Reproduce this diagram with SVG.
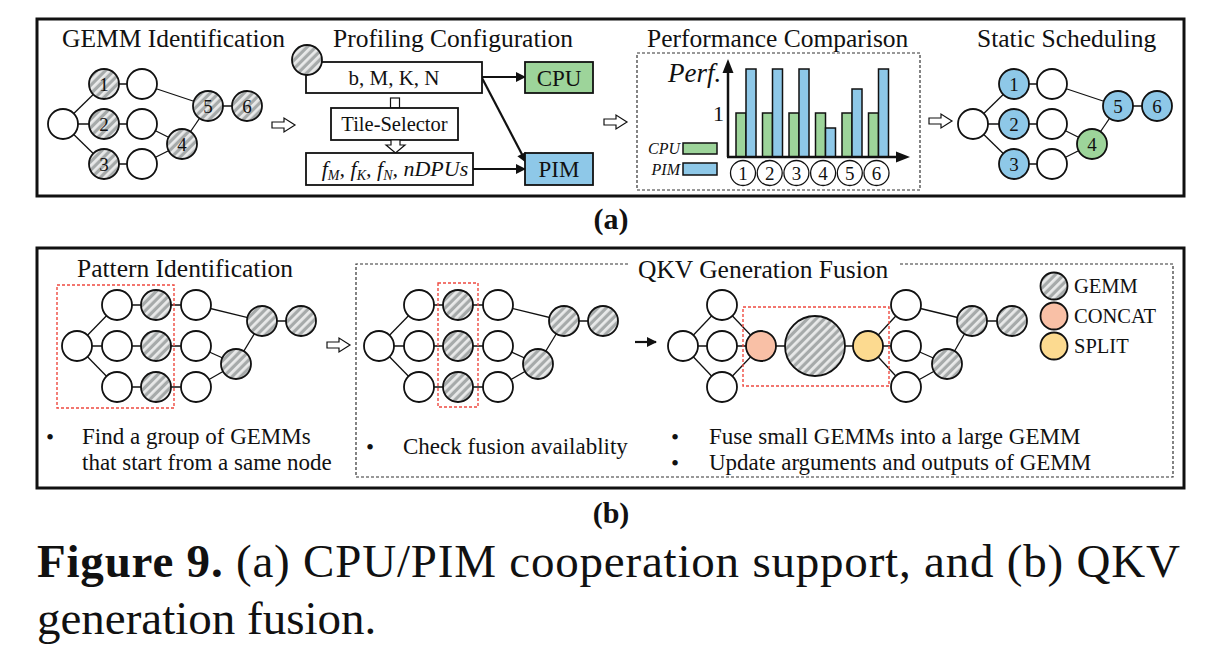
<svg xmlns="http://www.w3.org/2000/svg" width="1214" height="648" viewBox="0 0 1214 648">
<defs>
<pattern id="hatch" patternUnits="userSpaceOnUse" width="6" height="6" patternTransform="rotate(45)">
<rect width="6" height="6" fill="#a6aaaa"/>
<rect width="2.8" height="6" fill="#e9eaea"/>
</pattern>
<marker id="ah" viewBox="0 0 10 10" refX="9" refY="5" markerUnits="userSpaceOnUse" markerWidth="12" markerHeight="10" orient="auto">
<path d="M0,0 L10,5 L0,10 z" fill="#111"/>
</marker>
<path id="harrow" d="M0,-3 H12 V-7 L23,0 L12,7 V3 H0 Z" fill="#fff" stroke="#111" stroke-width="1.2"/>
</defs>
<style>
.t{font-family:"Liberation Serif","Times New Roman",serif;fill:#111}
.ti{font-size:25.5px}
.bd{font-size:23px}
.nl{font-size:19px;text-anchor:middle}
.e{stroke:#111;stroke-width:1.3;fill:none}
.n{stroke:#111;stroke-width:1.8}
.w{fill:#fff}
.h{fill:url(#hatch)}
.bl{fill:#8ec8e8}
.gr{fill:#9dd49a}
.cc{fill:#f9c0a6}
.sp{fill:#fcda90}
.box{fill:#fff;stroke:#111;stroke-width:1.8}
.dash{fill:none;stroke:#333;stroke-width:1.2;stroke-dasharray:3 2}
.red{fill:none;stroke:#ee4a40;stroke-width:1.4;stroke-dasharray:3 2}
.panel{fill:none;stroke:#111;stroke-width:3}
.ar{stroke:#111;stroke-width:2.2;fill:none;marker-end:url(#ah)}
.bar{stroke:#111;stroke-width:1.5}
</style>
<rect width="1214" height="648" fill="#fff"/>

<!-- Panel (a) -->
<rect class="panel" x="37" y="19" width="1147" height="177"/>
<text class="t ti" x="62" y="47">GEMM Identification</text>
<text class="t ti" x="333" y="47">Profiling Configuration</text>
<text class="t ti" x="647" y="47">Performance Comparison</text>
<text class="t ti" x="977" y="47">Static Scheduling</text>

<!-- hollow arrows -->
<use href="#harrow" x="272" y="125"/>
<use href="#harrow" x="604" y="122"/>
<use href="#harrow" x="929" y="121"/>
<use href="#harrow" x="327" y="345"/>

<!-- connectors -->
<g id="connectors">
<g class="e">
<line x1="63" y1="124" x2="104" y2="84"/><line x1="63" y1="124" x2="104" y2="124"/><line x1="63" y1="124" x2="104" y2="164"/>
<line x1="104" y1="84" x2="142" y2="84"/><line x1="104" y1="124" x2="142" y2="124"/><line x1="104" y1="164" x2="142" y2="164"/>
<line x1="142" y1="84" x2="208" y2="106"/><line x1="142" y1="124" x2="182" y2="144"/><line x1="142" y1="164" x2="182" y2="144"/>
<line x1="182" y1="144" x2="208" y2="106"/><line x1="208" y1="106" x2="247" y2="106"/>
</g>
<g class="e">
<line x1="973" y1="124" x2="1014" y2="84"/><line x1="973" y1="124" x2="1014" y2="124"/><line x1="973" y1="124" x2="1014" y2="164"/>
<line x1="1014" y1="84" x2="1052" y2="84"/><line x1="1014" y1="124" x2="1052" y2="124"/><line x1="1014" y1="164" x2="1052" y2="164"/>
<line x1="1052" y1="84" x2="1118" y2="106"/><line x1="1052" y1="124" x2="1092" y2="144"/><line x1="1052" y1="164" x2="1092" y2="144"/>
<line x1="1092" y1="144" x2="1118" y2="106"/><line x1="1118" y1="106" x2="1157" y2="106"/>
</g>
<line class="ar" x1="482" y1="77" x2="525" y2="77"/>
<line class="ar" x1="482" y1="78" x2="526" y2="162"/>
<line class="ar" x1="473" y1="169" x2="525" y2="169"/>
<g class="e">
<line x1="77" y1="346" x2="117" y2="305"/><line x1="77" y1="346" x2="117" y2="346"/><line x1="77" y1="346" x2="117" y2="387"/>
<line x1="117" y1="305" x2="196" y2="305"/><line x1="117" y1="346" x2="196" y2="346"/><line x1="117" y1="387" x2="196" y2="387"/>
<line x1="196" y1="305" x2="262" y2="321"/><line x1="196" y1="346" x2="236" y2="364"/><line x1="196" y1="387" x2="236" y2="364"/>
<line x1="236" y1="364" x2="262" y2="321"/><line x1="262" y1="321" x2="301" y2="321"/>
</g>
<g class="e">
<line x1="379" y1="346" x2="419" y2="305"/><line x1="379" y1="346" x2="419" y2="346"/><line x1="379" y1="346" x2="419" y2="387"/>
<line x1="419" y1="305" x2="498" y2="305"/><line x1="419" y1="346" x2="498" y2="346"/><line x1="419" y1="387" x2="498" y2="387"/>
<line x1="498" y1="305" x2="564" y2="321"/><line x1="498" y1="346" x2="538" y2="364"/><line x1="498" y1="387" x2="538" y2="364"/>
<line x1="538" y1="364" x2="564" y2="321"/><line x1="564" y1="321" x2="603" y2="321"/>
</g>
<line class="ar" x1="635" y1="342" x2="656" y2="342"/>
<g class="e">
<line x1="683" y1="346" x2="722" y2="305"/><line x1="683" y1="346" x2="722" y2="346"/><line x1="683" y1="346" x2="722" y2="387"/>
<line x1="722" y1="305" x2="761" y2="346"/><line x1="722" y1="346" x2="761" y2="346"/><line x1="722" y1="387" x2="761" y2="346"/>
<line x1="761" y1="346" x2="868" y2="346"/>
<line x1="868" y1="346" x2="906" y2="305"/><line x1="868" y1="346" x2="906" y2="346"/><line x1="868" y1="346" x2="906" y2="387"/>
<line x1="906" y1="305" x2="972" y2="321"/><line x1="906" y1="346" x2="947" y2="364"/><line x1="906" y1="387" x2="947" y2="364"/>
<line x1="947" y1="364" x2="972" y2="321"/><line x1="972" y1="321" x2="1012" y2="321"/>
</g>
</g>

<!-- GEMM identification nodes -->
<g id="gemm-graph">
<g id="g-in"><circle class="n w" cx="63" cy="124" r="15"/></g>
<g id="g-1"><circle class="n h" cx="104" cy="84" r="15"/><text class="t nl" x="104" y="90.5">1</text></g>
<g id="g-1w"><circle class="n w" cx="142" cy="84" r="15"/></g>
<g id="g-2"><circle class="n h" cx="104" cy="124" r="15"/><text class="t nl" x="104" y="130.5">2</text></g>
<g id="g-2w"><circle class="n w" cx="142" cy="124" r="15"/></g>
<g id="g-3"><circle class="n h" cx="104" cy="164" r="15"/><text class="t nl" x="104" y="170.5">3</text></g>
<g id="g-3w"><circle class="n w" cx="142" cy="164" r="15"/></g>
<g id="g-4"><circle class="n h" cx="182" cy="144" r="15"/><text class="t nl" x="182" y="150.5">4</text></g>
<g id="g-5"><circle class="n h" cx="208" cy="106" r="15"/><text class="t nl" x="208" y="112.5">5</text></g>
<g id="g-6"><circle class="n h" cx="247" cy="106" r="15"/><text class="t nl" x="247" y="112.5">6</text></g>
</g>

<!-- Profiling configuration -->
<g id="bmkn"><rect class="box" x="306" y="62" width="176" height="31"/><text class="t" x="394" y="85" font-size="21" text-anchor="middle">b, M, K, N</text></g>
<g id="gemm-op"><circle class="n h" cx="307" cy="60" r="15"/></g>
<g id="stub"><rect x="390.5" y="98" width="9" height="10" fill="#fff" stroke="#111" stroke-width="1.2"/></g>
<g id="tile-selector"><rect class="box" x="331" y="108" width="127" height="32"/><text class="t" x="394.5" y="131" font-size="20.5" text-anchor="middle">Tile-Selector</text></g>
<g id="down-arrow"><path d="M391,140 H400 V145 H405 L395.5,153 L386,145 H391 Z" fill="#fff" stroke="#111" stroke-width="1.2"/></g>
<g id="fbox"><rect class="box" x="306" y="153" width="167" height="32"/>
<text class="t" x="395" y="176" font-size="22" font-style="italic" text-anchor="middle">f<tspan font-size="14" dy="4">M</tspan><tspan dy="-4">, f</tspan><tspan font-size="14" dy="4">K</tspan><tspan dy="-4">, f</tspan><tspan font-size="14" dy="4">N</tspan><tspan dy="-4">, nDPUs</tspan></text></g>
<g id="cpu"><rect class="n gr" x="525" y="62" width="68" height="31"/><text class="t" x="559" y="85.5" font-size="23" text-anchor="middle">CPU</text></g>
<g id="pim"><rect class="n bl" x="525" y="153" width="68" height="32"/><text class="t" x="559" y="177" font-size="23" text-anchor="middle">PIM</text></g>

<!-- Performance comparison -->
<g id="perf">
<rect class="dash" x="637" y="53" width="283" height="137"/>
<text class="t" x="668" y="82" font-size="27" font-style="italic">Perf.</text>
<text class="t" x="724" y="121" font-size="22" text-anchor="end">1</text>
<g class="bar">
<rect class="gr" x="736" y="113" width="10" height="44"/><rect class="bl" x="746" y="69" width="10" height="88"/>
<rect class="gr" x="762.5" y="113" width="10" height="44"/><rect class="bl" x="772.5" y="69" width="10" height="88"/>
<rect class="gr" x="789" y="113" width="10" height="44"/><rect class="bl" x="799" y="69" width="10" height="88"/>
<rect class="gr" x="815.5" y="113" width="10" height="44"/><rect class="bl" x="825.5" y="128" width="10" height="29"/>
<rect class="gr" x="842" y="113" width="10" height="44"/><rect class="bl" x="852" y="89" width="10" height="68"/>
<rect class="gr" x="868.5" y="113" width="10" height="44"/><rect class="bl" x="878.5" y="69" width="10" height="88"/>
</g>
<line x1="728" y1="157" x2="728" y2="70" stroke="#111" stroke-width="2.5"/>
<polygon points="722.5,73 728,59 733.5,73" fill="#111"/>
<line x1="727" y1="157" x2="898" y2="157" stroke="#111" stroke-width="2.5"/>
<polygon points="896,151.5 910,157 896,162.5" fill="#111"/>
<g class="e" stroke-width="1.4">
<circle cx="743" cy="173" r="12.5" fill="#fff"/><circle cx="769.7" cy="173" r="12.5" fill="#fff"/><circle cx="796.4" cy="173" r="12.5" fill="#fff"/>
<circle cx="823.1" cy="173" r="12.5" fill="#fff"/><circle cx="849.8" cy="173" r="12.5" fill="#fff"/><circle cx="876.5" cy="173" r="12.5" fill="#fff"/>
</g>
<text class="t nl" x="743" y="180">1</text><text class="t nl" x="769.7" y="180">2</text><text class="t nl" x="796.4" y="180">3</text>
<text class="t nl" x="823.1" y="180">4</text><text class="t nl" x="849.8" y="180">5</text><text class="t nl" x="876.5" y="180">6</text>
<text class="t" x="680" y="154" font-size="16" font-style="italic" text-anchor="end">CPU</text>
<rect class="bar gr" x="683" y="143" width="34" height="11"/>
<text class="t" x="680" y="175" font-size="16" font-style="italic" text-anchor="end">PIM</text>
<rect class="bar bl" x="683" y="163" width="34" height="12"/>
</g>

<!-- Static scheduling nodes -->
<g id="sched-graph">
<g id="s-in"><circle class="n w" cx="973" cy="124" r="15"/></g>
<g id="s-1"><circle class="n bl" cx="1014" cy="84" r="15"/><text class="t nl" x="1014" y="90.5">1</text></g>
<g id="s-1w"><circle class="n w" cx="1052" cy="84" r="15"/></g>
<g id="s-2"><circle class="n bl" cx="1014" cy="124" r="15"/><text class="t nl" x="1014" y="130.5">2</text></g>
<g id="s-2w"><circle class="n w" cx="1052" cy="124" r="15"/></g>
<g id="s-3"><circle class="n bl" cx="1014" cy="164" r="15"/><text class="t nl" x="1014" y="170.5">3</text></g>
<g id="s-3w"><circle class="n w" cx="1052" cy="164" r="15"/></g>
<g id="s-4"><circle class="n gr" cx="1092" cy="144" r="15"/><text class="t nl" x="1092" y="150.5">4</text></g>
<g id="s-5"><circle class="n bl" cx="1118" cy="106" r="15"/><text class="t nl" x="1118" y="112.5">5</text></g>
<g id="s-6"><circle class="n bl" cx="1157" cy="106" r="15"/><text class="t nl" x="1157" y="112.5">6</text></g>
</g>

<text class="t" x="611" y="229" font-size="30" font-weight="bold" text-anchor="middle">(a)</text>

<!-- Panel (b) -->
<rect class="panel" x="37" y="248" width="1147" height="240"/>
<text class="t ti" x="77" y="277">Pattern Identification</text>
<rect class="red" x="57" y="285" width="117" height="123"/>
<g id="pattern-graph">
<g id="p-in"><circle class="n w" cx="77" cy="346" r="15"/></g>
<g id="p-a1"><circle class="n w" cx="117" cy="305" r="15"/></g>
<g id="p-a2"><circle class="n w" cx="117" cy="346" r="15"/></g>
<g id="p-a3"><circle class="n w" cx="117" cy="387" r="15"/></g>
<g id="p-b1"><circle class="n h" cx="156" cy="305" r="15"/></g>
<g id="p-b2"><circle class="n h" cx="156" cy="346" r="15"/></g>
<g id="p-b3"><circle class="n h" cx="156" cy="387" r="15"/></g>
<g id="p-c1"><circle class="n w" cx="196" cy="305" r="15"/></g>
<g id="p-c2"><circle class="n w" cx="196" cy="346" r="15"/></g>
<g id="p-c3"><circle class="n w" cx="196" cy="387" r="15"/></g>
<g id="p-d"><circle class="n h" cx="236" cy="364" r="15"/></g>
<g id="p-e"><circle class="n h" cx="262" cy="321" r="15"/></g>
<g id="p-f"><circle class="n h" cx="301" cy="321" r="15"/></g>
</g>
<text class="t bd" x="46" y="445">•</text>
<text class="t bd" x="82" y="444">Find a group of GEMMs</text>
<text class="t bd" x="82" y="470">that start from a same node</text>

<!-- QKV generation fusion dashed frame -->
<path class="dash" d="M628,264 H356 V477 H1173 V264 H900"/>
<text class="t ti" x="638" y="278">QKV Generation Fusion</text>

<rect class="red" x="438" y="283" width="40" height="124"/>
<g id="check-graph">
<g id="c-in"><circle class="n w" cx="379" cy="346" r="15"/></g>
<g id="c-a1"><circle class="n w" cx="419" cy="305" r="15"/></g>
<g id="c-a2"><circle class="n w" cx="419" cy="346" r="15"/></g>
<g id="c-a3"><circle class="n w" cx="419" cy="387" r="15"/></g>
<g id="c-b1"><circle class="n h" cx="458" cy="305" r="15"/></g>
<g id="c-b2"><circle class="n h" cx="458" cy="346" r="15"/></g>
<g id="c-b3"><circle class="n h" cx="458" cy="387" r="15"/></g>
<g id="c-c1"><circle class="n w" cx="498" cy="305" r="15"/></g>
<g id="c-c2"><circle class="n w" cx="498" cy="346" r="15"/></g>
<g id="c-c3"><circle class="n w" cx="498" cy="387" r="15"/></g>
<g id="c-d"><circle class="n h" cx="538" cy="364" r="15"/></g>
<g id="c-e"><circle class="n h" cx="564" cy="321" r="15"/></g>
<g id="c-f"><circle class="n h" cx="603" cy="321" r="15"/></g>
</g>
<text class="t bd" x="366" y="455">•</text>
<text class="t bd" x="403" y="454">Check fusion availablity</text>

<rect class="red" x="743" y="307" width="146" height="79"/>
<g id="fused-graph">
<g id="f-in"><circle class="n w" cx="683" cy="346" r="15"/></g>
<g id="f-a1"><circle class="n w" cx="722" cy="305" r="15"/></g>
<g id="f-a2"><circle class="n w" cx="722" cy="346" r="15"/></g>
<g id="f-a3"><circle class="n w" cx="722" cy="387" r="15"/></g>
<g id="f-concat"><circle class="n cc" cx="761" cy="346" r="15"/></g>
<g id="f-gemm"><circle class="n h" cx="815" cy="346" r="30"/></g>
<g id="f-split"><circle class="n sp" cx="868" cy="346" r="15"/></g>
<g id="f-c1"><circle class="n w" cx="906" cy="305" r="15"/></g>
<g id="f-c2"><circle class="n w" cx="906" cy="346" r="15"/></g>
<g id="f-c3"><circle class="n w" cx="906" cy="387" r="15"/></g>
<g id="f-d"><circle class="n h" cx="947" cy="364" r="15"/></g>
<g id="f-e"><circle class="n h" cx="972" cy="321" r="15"/></g>
<g id="f-f"><circle class="n h" cx="1012" cy="321" r="15"/></g>
</g>
<g id="legend">
<circle class="n h" cx="1054" cy="286" r="13.5"/><text class="t" x="1074" y="293" font-size="20.5">GEMM</text>
<circle class="n cc" cx="1054" cy="316" r="13.5"/><text class="t" x="1074" y="323" font-size="20.5">CONCAT</text>
<circle class="n sp" cx="1054" cy="346" r="13.5"/><text class="t" x="1074" y="353" font-size="20.5">SPLIT</text>
</g>
<text class="t bd" x="671" y="445">•</text>
<text class="t bd" x="709" y="444">Fuse small GEMMs into a large GEMM</text>
<text class="t bd" x="671" y="471">•</text>
<text class="t bd" x="709" y="470">Update arguments and outputs of GEMM</text>

<text class="t" x="611" y="523" font-size="30" font-weight="bold" text-anchor="middle">(b)</text>

<!-- Caption -->
<text class="t" x="37" y="577" font-size="47" textLength="1143" lengthAdjust="spacing"><tspan font-weight="bold">Figure 9.</tspan> (a) CPU/PIM cooperation support, and (b) QKV</text>
<text class="t" x="37" y="634" font-size="47">generation fusion.</text>
</svg>
